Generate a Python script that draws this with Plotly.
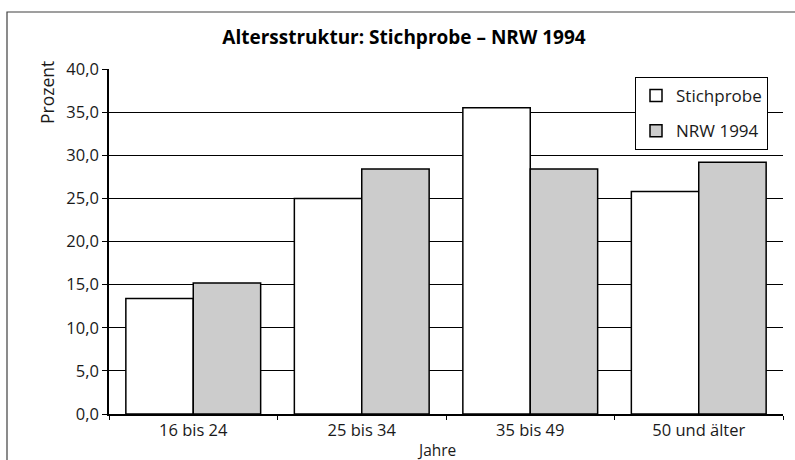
import plotly.graph_objects as go

categories = ["16 bis 24", "25 bis 34", "35 bis 49", "50 und älter"]
stichprobe = [13.4, 25.0, 35.5, 25.8]
nrw_1994 = [15.2, 28.4, 28.4, 29.2]
series_names = ["Stichprobe", "NRW 1994"]
y_ticks = [0, 5, 10, 15, 20, 25, 30, 35, 40]
y_tick_labels = ["0,0", "5,0", "10,0", "15,0", "20,0", "25,0", "30,0", "35,0", "40,0"]

W, H = 795, 460
L, R, T, B = 109, 12, 69, 46
pw, ph = W - L - R, H - T - B

def px_x(x):
    return (x - L) / pw

def px_y(y):
    return (H - B - y) / ph

FONT = "Open Sans"
TXT = "#1a1a1a"

fig = go.Figure()
fig.add_trace(go.Bar(
    x=categories, y=stichprobe, name=series_names[0], legendgroup="a",
    marker=dict(color="white", line=dict(color="black", width=1.5)),
))
fig.add_trace(go.Bar(
    x=categories, y=nrw_1994, name=series_names[1], legendgroup="b",
    marker=dict(color="#cccccc", line=dict(color="black", width=1.5)),
))

fig.update_layout(
    width=W, height=H,
    margin=dict(l=L, r=R, t=T, b=B, pad=0),
    paper_bgcolor="white", plot_bgcolor="white",
    barmode="group", bargap=0.2, bargroupgap=0,
    font=dict(family=FONT, size=16, color=TXT),
    title=dict(text="<b>Altersstruktur: Stichprobe – NRW 1994</b>",
               x=px_x(404), xref="paper", xanchor="center",
               y=1 - 37 / H, yanchor="middle",
               font=dict(family=FONT, size=19, color="black")),
    showlegend=True,
    legend=dict(x=px_x(635), y=px_y(77), xanchor="left", yanchor="top",
                bgcolor="white", bordercolor="black", borderwidth=1,
                font=dict(family=FONT, size=17, color=TXT),
                tracegroupgap=10, traceorder="grouped", itemwidth=30),
    xaxis=dict(showline=True, linecolor="black", linewidth=1.5,
               ticks="outside", ticklen=4, tickcolor="black",
               tickson="boundaries", showgrid=False,
               tickfont=dict(family=FONT, size=16.5, color=TXT)),
    yaxis=dict(range=[0, 40], tickvals=y_ticks, ticktext=y_tick_labels,
               showline=True, linecolor="black", linewidth=1.5,
               ticks="outside", ticklen=5, tickcolor="black",
               showgrid=True, gridcolor="black", gridwidth=1.2,
               zeroline=False,
               tickfont=dict(family=FONT, size=16.5, color=TXT)),
    shapes=[dict(type="rect", xref="paper", yref="paper",
                 x0=px_x(7), x1=px_x(W + 20), y0=px_y(H + 20), y1=px_y(12),
                 line=dict(color="#404040", width=1.2), fillcolor="rgba(0,0,0,0)",
                 layer="below")],
    annotations=[
        dict(text="Prozent", xref="paper", yref="paper", x=px_x(47), y=px_y(93),
             xanchor="center", yanchor="middle", textangle=-90, showarrow=False,
             font=dict(family=FONT, size=17.5, color=TXT)),
        dict(text="Jahre", xref="paper", yref="paper", x=px_x(436), y=px_y(450),
             xanchor="center", yanchor="middle", showarrow=False,
             font=dict(family=FONT, size=15.5, color=TXT)),
    ],
)

fig.write_html("out.html")
